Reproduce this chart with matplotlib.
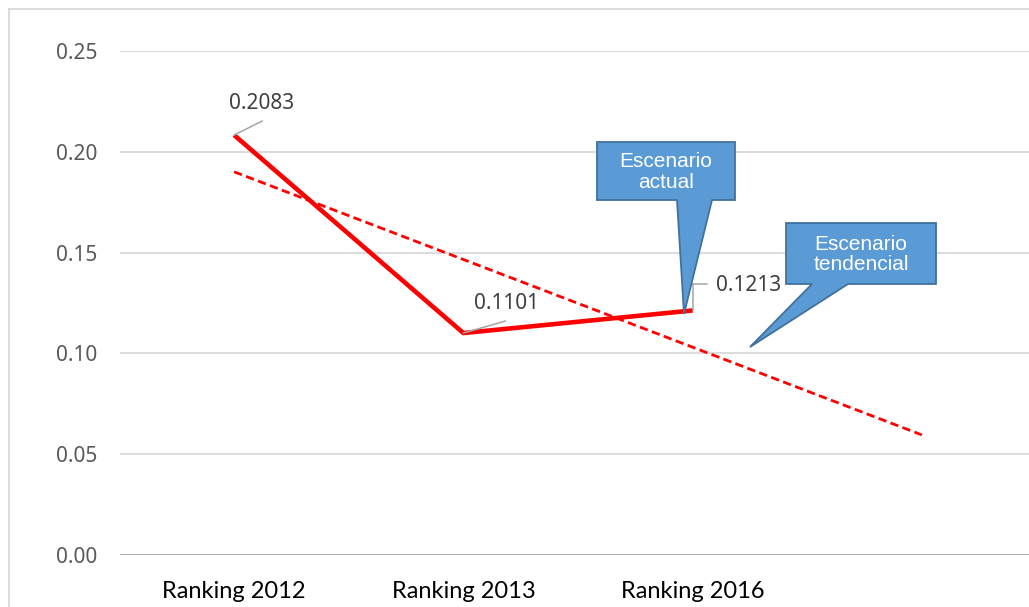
import numpy as np
import matplotlib
matplotlib.use("Agg")
import matplotlib.pyplot as plt
from matplotlib.patches import Polygon
from matplotlib.lines import Line2D
from matplotlib.transforms import offset_copy

# ---- data ----
categories = ["Ranking 2012", "Ranking 2013", "Ranking 2016"]
values = [0.2083, 0.1101, 0.1213]
label_texts = ["0.2083", "0.1101", "0.1213"]
y_ticks = [0.00, 0.05, 0.10, 0.15, 0.20, 0.25]
callout_texts = ["Escenario\nactual", "Escenario\ntendencial"]

W, H = 1029, 607
fig = plt.figure(figsize=(W / 100, H / 100), dpi=100)
fig.patch.set_facecolor("white")

def px(x, y):
    return (x / W, 1 - y / H)

# plot area
ax = fig.add_axes([119.5 / W, 1 - 555 / H, 917 / W, 504 / H])
ax.set_xlim(-0.5, 3.5)
ax.set_ylim(0, 0.25)

x = np.arange(len(values))
# linear trendline with forward forecast of 1 period
coef = np.polyfit(x, values, 1)
xt = np.array([0, len(values)])
ax.plot(xt, np.polyval(coef, xt), color="#FF0000", lw=2.0, ls=(0, (3, 1.6)),
        zorder=3, solid_capstyle="butt", dash_capstyle="butt")
ax.plot(x, values, color="#FF0000", lw=3.3, zorder=4, solid_capstyle="butt")

for s in ax.spines.values():
    s.set_visible(False)
ax.set_yticks(y_ticks)
ax.set_yticklabels([f"{v:.2f}" for v in y_ticks], fontsize=15,
                   color="#595959", family="Noto Sans")
ax.set_xticks(x)
ax.set_xticklabels(categories, fontsize=17, color="black", family="Lato")
ax.tick_params(axis="both", length=0)
ax.tick_params(axis="y", pad=16)
ax.tick_params(axis="x", pad=18.5)
ax.grid(axis="y", color="#D9D9D9", lw=1.3)
ax.axhline(0, color="#A6A6A6", lw=1.3, zorder=2)
ax.set_axisbelow(True)

# data labels with leader lines (offsets in pixels)
label_offsets = [(28, 32), (43, 30), (56, 25)]
leaders = [[(0, 0), (28, 14)], [(0, 0), (42, 12)], [(0, 0), (0, 26), (14, 26)]]
for i, (v, t) in enumerate(zip(values, label_texts)):
    dx, dy = label_offsets[i]
    ax.annotate(t, (x[i], v), xytext=(dx, dy), textcoords="offset pixels",
                ha="center", va="center", fontsize=15, color="#404040",
                family="Noto Sans", zorder=6)
    pts = leaders[i]
    for (a, b) in zip(pts[:-1], pts[1:]):
        t0 = offset_copy(ax.transData, fig=fig, x=a[0], y=a[1], units="dots")
        t1 = offset_copy(ax.transData, fig=fig, x=b[0], y=b[1], units="dots")
        f0 = fig.transFigure.inverted().transform(t0.transform((x[i], v)))
        f1 = fig.transFigure.inverted().transform(t1.transform((x[i], v)))
        fig.add_artist(Line2D([f0[0], f1[0]], [f0[1], f1[1]],
                              color="#A6A6A6", lw=1.1, zorder=5))

# callouts (pixel geometry of shapes)
callouts = [
    dict(box=(597, 142, 735, 200), base=(677, 712), tip=(684, 314)),
    dict(box=(786, 223, 936, 284), base=(812, 848), tip=(750, 347)),
]
for c, txt in zip(callouts, callout_texts):
    l, t, r, b = c["box"]
    bl, br = c["base"]
    tx, ty = c["tip"]
    verts = [px(l, t), px(r, t), px(r, b), px(br, b), px(tx, ty), px(bl, b), px(l, b)]
    fig.add_artist(Polygon(verts, closed=True, transform=fig.transFigure,
                           facecolor="#5B9BD5", edgecolor="#41719C", lw=1.3,
                           zorder=10))
    cx, cy = px((l + r) / 2, (t + b) / 2 + 1)
    fig.text(cx, cy, txt, ha="center", va="center", color="white",
             fontsize=15, family=["Liberation Sans", "DejaVu Sans"],
             linespacing=1.1, zorder=11)

# outer chart border
fig.add_artist(Line2D([px(8.5, 0)[0], px(8.5, 0)[0]], [px(0, 8.5)[1], 0],
                      color="#D9D9D9", lw=1.3, transform=fig.transFigure))
fig.add_artist(Line2D([px(8.5, 0)[0], 1], [px(0, 8.5)[1], px(0, 8.5)[1]],
                      color="#D9D9D9", lw=1.3, transform=fig.transFigure))

fig.savefig("out.png", dpi=100, facecolor="white")
